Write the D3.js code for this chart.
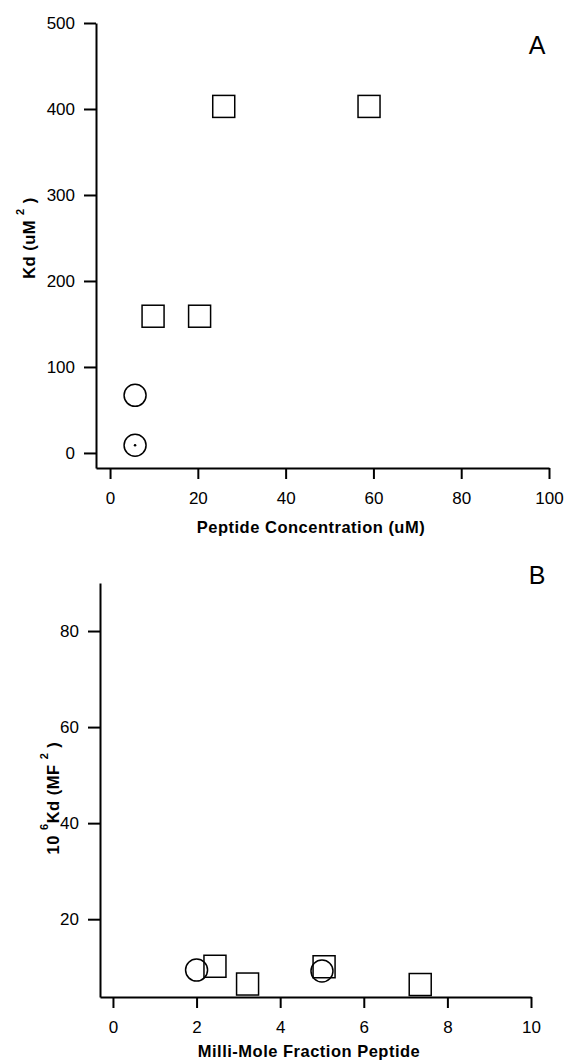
<!DOCTYPE html>
<html>
<head>
<meta charset="utf-8">
<script src="https://cdn.jsdelivr.net/npm/d3@7"></script>
<style>
  body { margin: 0; background: #fff; }
  svg { display: block; font-family: "Liberation Sans", Arial, sans-serif; }
  .tick text { font-size: 17px; fill: #000; }
  .title { font-size: 16.5px; font-weight: bold; letter-spacing: 0.5px; }
</style>
</head>
<body>
<div id="chart"></div>
<script>
// panel A: Kd vs peptide concentration
const aSquareX = [25.9, 59, 9.8, 20.4];
const aSquareY = [403, 403, 159, 159];
const aCircleX = [5.7, 5.7];
const aCircleY = [67, 9];
const aXTicks = [0, 20, 40, 60, 80, 100];
const aYTicks = [0, 100, 200, 300, 400, 500];

// panel B: 10^6 Kd vs milli-mole fraction
const bSquareX = [2.44, 3.22, 5.05, 7.35];
const bSquareY = [10.2, 6.5, 10.1, 6.4];
const bCircleX = [2.0, 5.0];
const bCircleY = [9.4, 9.2];
const bXTicks = [0, 2, 4, 6, 8, 10];
const bYTicks = [20, 40, 60, 80];

const width = 564, height = 1062;

const svg = d3.select("#chart").append("svg")
    .attr("width", width)
    .attr("height", height);

function panel(opts) {
  const x = d3.scaleLinear().domain(opts.xDomain).range(opts.xRange);
  const y = d3.scaleLinear().domain(opts.yDomain).range(opts.yRange);

  const gx = svg.append("g")
      .attr("transform", `translate(0,${opts.yRange[0]})`)
      .call(d3.axisBottom(x).tickValues(opts.xTicks).tickSize(11).tickSizeOuter(0).tickPadding(13));
  const gy = svg.append("g")
      .attr("transform", `translate(${opts.xRange[0]},0)`)
      .call(d3.axisLeft(y).tickValues(opts.yTicks).tickSize(12).tickSizeOuter(0).tickPadding(9));

  [gx, gy].forEach(g => {
    g.selectAll("path, line").attr("stroke", "#000").attr("stroke-width", 2);
    g.selectAll("text").attr("fill", "#000");
  });

  const s = 22;
  svg.append("g").selectAll("rect")
    .data(opts.sqX.map((d, i) => [d, opts.sqY[i]]))
    .join("rect")
      .attr("x", d => x(d[0]) - s / 2)
      .attr("y", d => y(d[1]) - s / 2)
      .attr("width", s)
      .attr("height", s)
      .attr("fill", "none")
      .attr("stroke", "#000")
      .attr("stroke-width", 1.5);

  svg.append("g").selectAll("circle")
    .data(opts.ciX.map((d, i) => [d, opts.ciY[i]]))
    .join("circle")
      .attr("cx", d => x(d[0]))
      .attr("cy", d => y(d[1]))
      .attr("r", 11)
      .attr("fill", "none")
      .attr("stroke", "#000")
      .attr("stroke-width", 1.5);

  return {x, y};
}

const A = panel({
  xDomain: [-3.2, 100], xRange: [96, 549],
  yDomain: [-17.5, 500], yRange: [468, 23],
  xTicks: aXTicks, yTicks: aYTicks,
  sqX: aSquareX, sqY: aSquareY, ciX: aCircleX, ciY: aCircleY
});

// dot inside the lower circle
svg.append("circle")
    .attr("cx", A.x(aCircleX[1]))
    .attr("cy", A.y(aCircleY[1]))
    .attr("r", 1.3)
    .attr("fill", "#000");

const B = panel({
  xDomain: [-0.31, 10], xRange: [100, 531],
  yDomain: [3.8, 90], yRange: [997, 583],
  xTicks: bXTicks, yTicks: bYTicks,
  sqX: bSquareX, sqY: bSquareY, ciX: bCircleX, ciY: bCircleY
});

// panel letters
svg.append("text").attr("x", 537).attr("y", 54)
    .attr("text-anchor", "middle").style("font-size", "25px").text("A");
svg.append("text").attr("x", 537).attr("y", 584)
    .attr("text-anchor", "middle").style("font-size", "25px").text("B");

// axis titles
svg.append("text").attr("class", "title")
    .attr("x", 311).attr("y", 533)
    .attr("text-anchor", "middle").text("Peptide Concentration (uM)");
svg.append("text").attr("class", "title")
    .attr("x", 309).attr("y", 1057)
    .attr("text-anchor", "middle").text("Milli-Mole Fraction Peptide");

const yTitleA = svg.append("text").attr("class", "title")
    .attr("transform", "translate(35,238) rotate(-90)")
    .attr("text-anchor", "middle");
yTitleA.append("tspan").text("Kd (uM ");
yTitleA.append("tspan").attr("dy", -11).style("font-size", "11px").text("2");
yTitleA.append("tspan").attr("dy", 11).text(" )");

const yTitleB = svg.append("text").attr("class", "title")
    .attr("transform", "translate(59,798) rotate(-90)")
    .attr("text-anchor", "middle");
yTitleB.append("tspan").text("10 ");
yTitleB.append("tspan").attr("dy", -11).style("font-size", "11px").text("6");
yTitleB.append("tspan").attr("dy", 11).text("Kd (MF ");
yTitleB.append("tspan").attr("dy", -11).style("font-size", "11px").text("2");
yTitleB.append("tspan").attr("dy", 11).text(" )");
</script>
</body>
</html>
